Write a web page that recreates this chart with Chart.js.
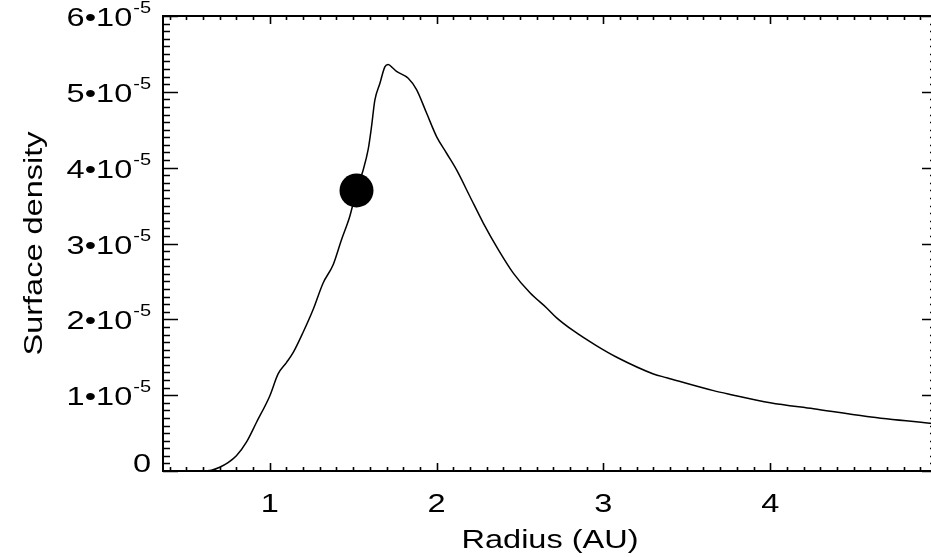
<!DOCTYPE html>
<html>
<head>
<meta charset="utf-8">
<script src="https://cdn.jsdelivr.net/npm/chart.js@4.4.1/dist/chart.umd.min.js"></script>
<style>
  html,body{margin:0;padding:0;background:#fff;overflow:hidden;}
  #wrap{position:absolute;left:0;top:0;width:945px;height:557px;}
  #sigma{width:945px;height:557px;display:block;}
</style>
</head>
<body>
<div id="wrap"><canvas id="sigma" width="945" height="557"></canvas></div>
<script>
// radius in AU, surface density in units of 1e-5
const radius = [0.36,0.50,0.60,0.65,0.70,0.75,0.80,0.86,0.92,1.00,1.05,1.10,1.14,1.20,1.26,1.32,1.38,1.43,1.48,1.52,1.56,1.59,1.61,1.63,1.66,1.69,1.71,1.73,1.76,1.83,1.88,1.94,2.00,2.06,2.12,2.20,2.28,2.37,2.46,2.56,2.66,2.72,2.82,2.96,3.08,3.30,3.38,3.66,3.76,4.00,4.26,4.58,5.00];
const sigma  = [0.00,0.00,0.00,0.01,0.05,0.11,0.20,0.38,0.64,0.99,1.28,1.43,1.56,1.83,2.13,2.48,2.72,3.05,3.36,3.70,3.97,4.24,4.54,4.89,5.11,5.33,5.36,5.33,5.27,5.18,5.03,4.72,4.41,4.19,3.97,3.62,3.27,2.92,2.61,2.35,2.15,2.02,1.85,1.65,1.50,1.28,1.23,1.06,1.01,0.90,0.82,0.72,0.62];
// planet position marker
const planetR = [1.52];
const planetS = [3.70];

const xTickLabels = [1,2,3,4];
const yTickLabels = [0,1,2,3,4,5,6];
const X_MIN = 0.36, X_MAX = 5.0, Y_MIN = 0, Y_MAX = 6;

const FONT = '"Liberation Sans", Arial, Helvetica, sans-serif';
const SX = 1.25; // wide Helvetica look

function wideText(ctx, txt, x, y, size, align){
  ctx.save();
  ctx.font = size + 'px ' + FONT;
  const w = ctx.measureText(txt).width * SX;
  let x0 = x;
  if(align === 'center') x0 = x - w/2;
  else if(align === 'right') x0 = x - w;
  ctx.translate(x0, y);
  ctx.scale(SX, 1);
  ctx.textAlign = 'left';
  ctx.textBaseline = 'alphabetic';
  ctx.fillText(txt, 0, 0);
  ctx.restore();
  return w;
}

// IDL-style box axes: inward ticks on all four sides + labels
const idlAxes = {
  id:'idlAxes',
  afterDraw(chart){
    const {ctx, chartArea:a, scales:{x, y}} = chart;
    ctx.save();
    ctx.strokeStyle = '#000';
    ctx.fillStyle = '#000';
    ctx.lineWidth = 2;
    ctx.strokeRect(a.left, a.top, a.right - a.left, a.bottom - a.top);

    ctx.lineWidth = 1.6;
    ctx.beginPath();
    for(let i = Math.ceil(X_MIN*10); i <= Math.round(X_MAX*10); i++){
      const px = Math.round(x.getPixelForValue(i/10)) + 0.5;
      const len = (i % 10 === 0) ? 8 : 4;
      ctx.moveTo(px, a.bottom); ctx.lineTo(px, a.bottom - len);
      ctx.moveTo(px, a.top);    ctx.lineTo(px, a.top + len);
    }
    for(let j = Y_MIN*10; j <= Y_MAX*10; j++){
      const py = Math.round(y.getPixelForValue(j/10)) + 0.5;
      const len = (j % 10 === 0) ? 15 : 7;
      ctx.moveTo(a.left, py);  ctx.lineTo(a.left + len, py);
      ctx.moveTo(a.right, py); ctx.lineTo(a.right - len, py);
    }
    ctx.stroke();

    // x tick labels
    xTickLabels.forEach(v=>{
      wideText(ctx, String(v), x.getPixelForValue(v), 512, 26, 'center');
    });
    // y tick labels, n•10^-5
    yTickLabels.forEach(v=>{
      const py = y.getPixelForValue(v);
      if(v === 0){
        wideText(ctx, '0', 151, py + 1, 26, 'right');
        return;
      }
      const sw = wideText(ctx, '-5', 151, py - 3, 16, 'right');
      wideText(ctx, v + '\u202210', 151 - sw - 1, py + 10, 26, 'right');
    });

    // axis titles
    wideText(ctx, 'Radius (AU)', (a.left + a.right)/2, 548, 26, 'center');
    ctx.save();
    ctx.translate(42, (a.top + a.bottom)/2);
    ctx.rotate(-Math.PI/2);
    wideText(ctx, 'Surface density', 0, 0, 26, 'center');
    ctx.restore();
    ctx.restore();
  }
};

new Chart(document.getElementById('sigma'), {
  type:'line',
  data:{ datasets:[
    { data: radius.map((r,i)=>({x:r, y:sigma[i]})), borderColor:'#000', borderWidth:1.5,
      pointRadius:0, cubicInterpolationMode:'monotone', fill:false },
    { data: planetR.map((r,i)=>({x:r, y:planetS[i]})), showLine:false,
      pointRadius:17, pointBackgroundColor:'#000', pointBorderWidth:0 }
  ] },
  options:{
    responsive:false, maintainAspectRatio:false, animation:false,
    // frame's right edge lands just past the visible window; no extra room for the big marker
    layout:{ autoPadding:false, padding:{ top:16, right:8, left:0, bottom:0 } },
    plugins:{ legend:{ display:false }, tooltip:{ enabled:false } },
    scales:{
      x:{ type:'linear', min:X_MIN, max:X_MAX, ticks:{ display:false }, grid:{ display:false }, border:{ display:false },
          afterFit:(s)=>{ s.height = 86; } },
      y:{ type:'linear', min:Y_MIN, max:Y_MAX, ticks:{ display:false }, grid:{ display:false }, border:{ display:false },
          afterFit:(s)=>{ s.width = 163; } }
    }
  },
  plugins:[idlAxes]
});
</script>
</body>
</html>
